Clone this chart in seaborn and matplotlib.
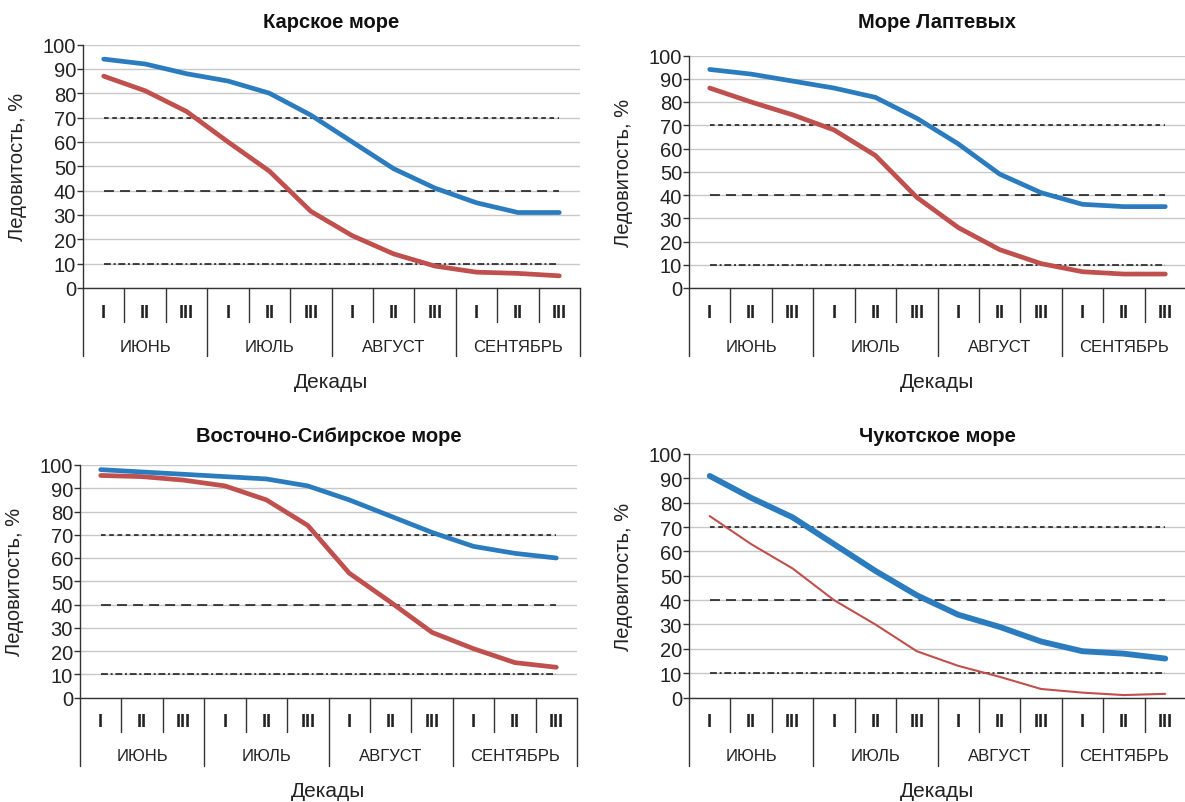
import numpy as np
import pandas as pd
import matplotlib
matplotlib.use("Agg")
import matplotlib.pyplot as plt
import seaborn as sns

# decade / month labels under each panel
decades = ["I", "II", "III"] * 4
months = ["ИЮНЬ", "ИЮЛЬ", "АВГУСТ", "СЕНТЯБРЬ"]
titles = ["Карское море", "Море Лаптевых", "Восточно-Сибирское море", "Чукотское море"]

# ice coverage, % (blue = upper curve, red = lower curve)
kara_blue = [94, 92, 88, 85, 80, 71, 60, 49, 41, 35, 31, 31]
kara_red = [87, 81, 72.5, 60, 48, 31.5, 21.5, 14, 9, 6.5, 6, 5]
laptev_blue = [94, 92, 89, 86, 82, 73, 62, 49, 41, 36, 35, 35]
laptev_red = [86, 80, 74.5, 68, 57, 39, 26, 16.5, 10.5, 7, 6, 6]
esib_blue = [98, 97, 96, 95, 94, 91, 85, 78, 71, 65, 62, 60]
esib_red = [95.5, 95, 93.5, 91, 85, 74, 53.5, 41, 28, 21, 15, 13]
chuk_blue = [91, 82, 74, 63, 52, 42, 34, 29, 23, 19, 18, 16]
chuk_red = [74.5, 63, 53, 40, 30, 19, 13, 8.5, 3.5, 2, 1, 1.5]

thresholds = [70, 40, 10]

sns.set_style("white")
plt.rcParams["font.family"] = ["Liberation Sans", "DejaVu Sans"]

W, H = 1185, 803
fig = plt.figure(figsize=(W / 100, H / 100), dpi=100)

BLUE = "#2b7bbf"
RED = "#c0504d"

# left, top(100), bottom(0) in pixels; title y in pixels
panels = [
    (83, 45.5, 289, 22, kara_blue, kara_red, 3.4, 3.4),
    (689, 56.5, 289, 22, laptev_blue, laptev_red, 3.4, 3.4),
    (80, 466, 698.5, 437, esib_blue, esib_red, 3.4, 3.4),
    (689, 455, 698.5, 437, chuk_blue, chuk_red, 4.2, 1.5),
]
dash_styles = [(3, 2.4), (6.5, 4), (4.5, 1.8, 1.3, 1.8)]

for (left, top, bot, ty, blue, red, lwb, lwr), title in zip(panels, titles):
    width = 497
    ax = fig.add_axes([left / W, 1 - bot / H, width / W, (bot - top) / H])
    hpx = bot - top
    df = pd.DataFrame({"x": np.arange(len(blue)), "blue": blue, "red": red})

    sns.lineplot(data=df, x="x", y="red", color=RED, lw=lwr, ax=ax,
                 solid_capstyle="round", zorder=4)
    sns.lineplot(data=df, x="x", y="blue", color=BLUE, lw=lwb, ax=ax,
                 solid_capstyle="round", zorder=5)

    for lvl, ds in zip(thresholds, dash_styles):
        ax.plot([df.x.iloc[0], df.x.iloc[-1]], [lvl, lvl], color="#111111",
                lw=1.1, dashes=ds, zorder=3)

    ax.set_xlim(-0.5, 11.5)
    ax.set_ylim(0, 100)
    ax.set_yticks(range(0, 101, 10))
    ax.tick_params(axis="y", labelsize=14.5, length=4, width=1, color="#333333",
                   pad=1, labelcolor="#222222", left=True)
    ax.yaxis.grid(True, color="#c8c8c8", lw=1)
    ax.set_axisbelow(True)
    ax.set_xticks([])
    ax.set_xlabel("")
    ax.set_ylabel("Ледовитость, %", fontsize=14.5, color="#222222")
    ax.yaxis.set_label_coords(-56 / width, 0.5)
    for s in ["top", "right"]:
        ax.spines[s].set_visible(False)
    for s in ["left", "bottom"]:
        ax.spines[s].set_color("#333333")
        ax.spines[s].set_linewidth(1)

    tr = ax.get_xaxis_transform()
    # two-level category axis
    for k in range(13):
        depth = 68 if k % 3 == 0 else 34
        ax.plot([k - 0.5, k - 0.5], [0, -depth / hpx], transform=tr,
                color="#333333", lw=1, clip_on=False)
    for i, d in enumerate(decades):
        ax.text(i, -24 / hpx, d, transform=tr, ha="center", va="center",
                fontsize=13, fontweight="bold", color="#222222")
    for m, name in enumerate(months):
        ax.text(3 * m + 1, -58 / hpx, name, transform=tr, ha="center",
                va="center", fontsize=12, color="#222222")
    ax.text(0.5, -93 / hpx, "Декады", transform=ax.transAxes, ha="center",
            va="center", fontsize=15, color="#222222")

    fig.text((left + width / 2) / W, 1 - ty / H, title, ha="center",
             va="center", fontsize=14.5, fontweight="bold", color="#111111")

fig.savefig("out.png", dpi=100)
